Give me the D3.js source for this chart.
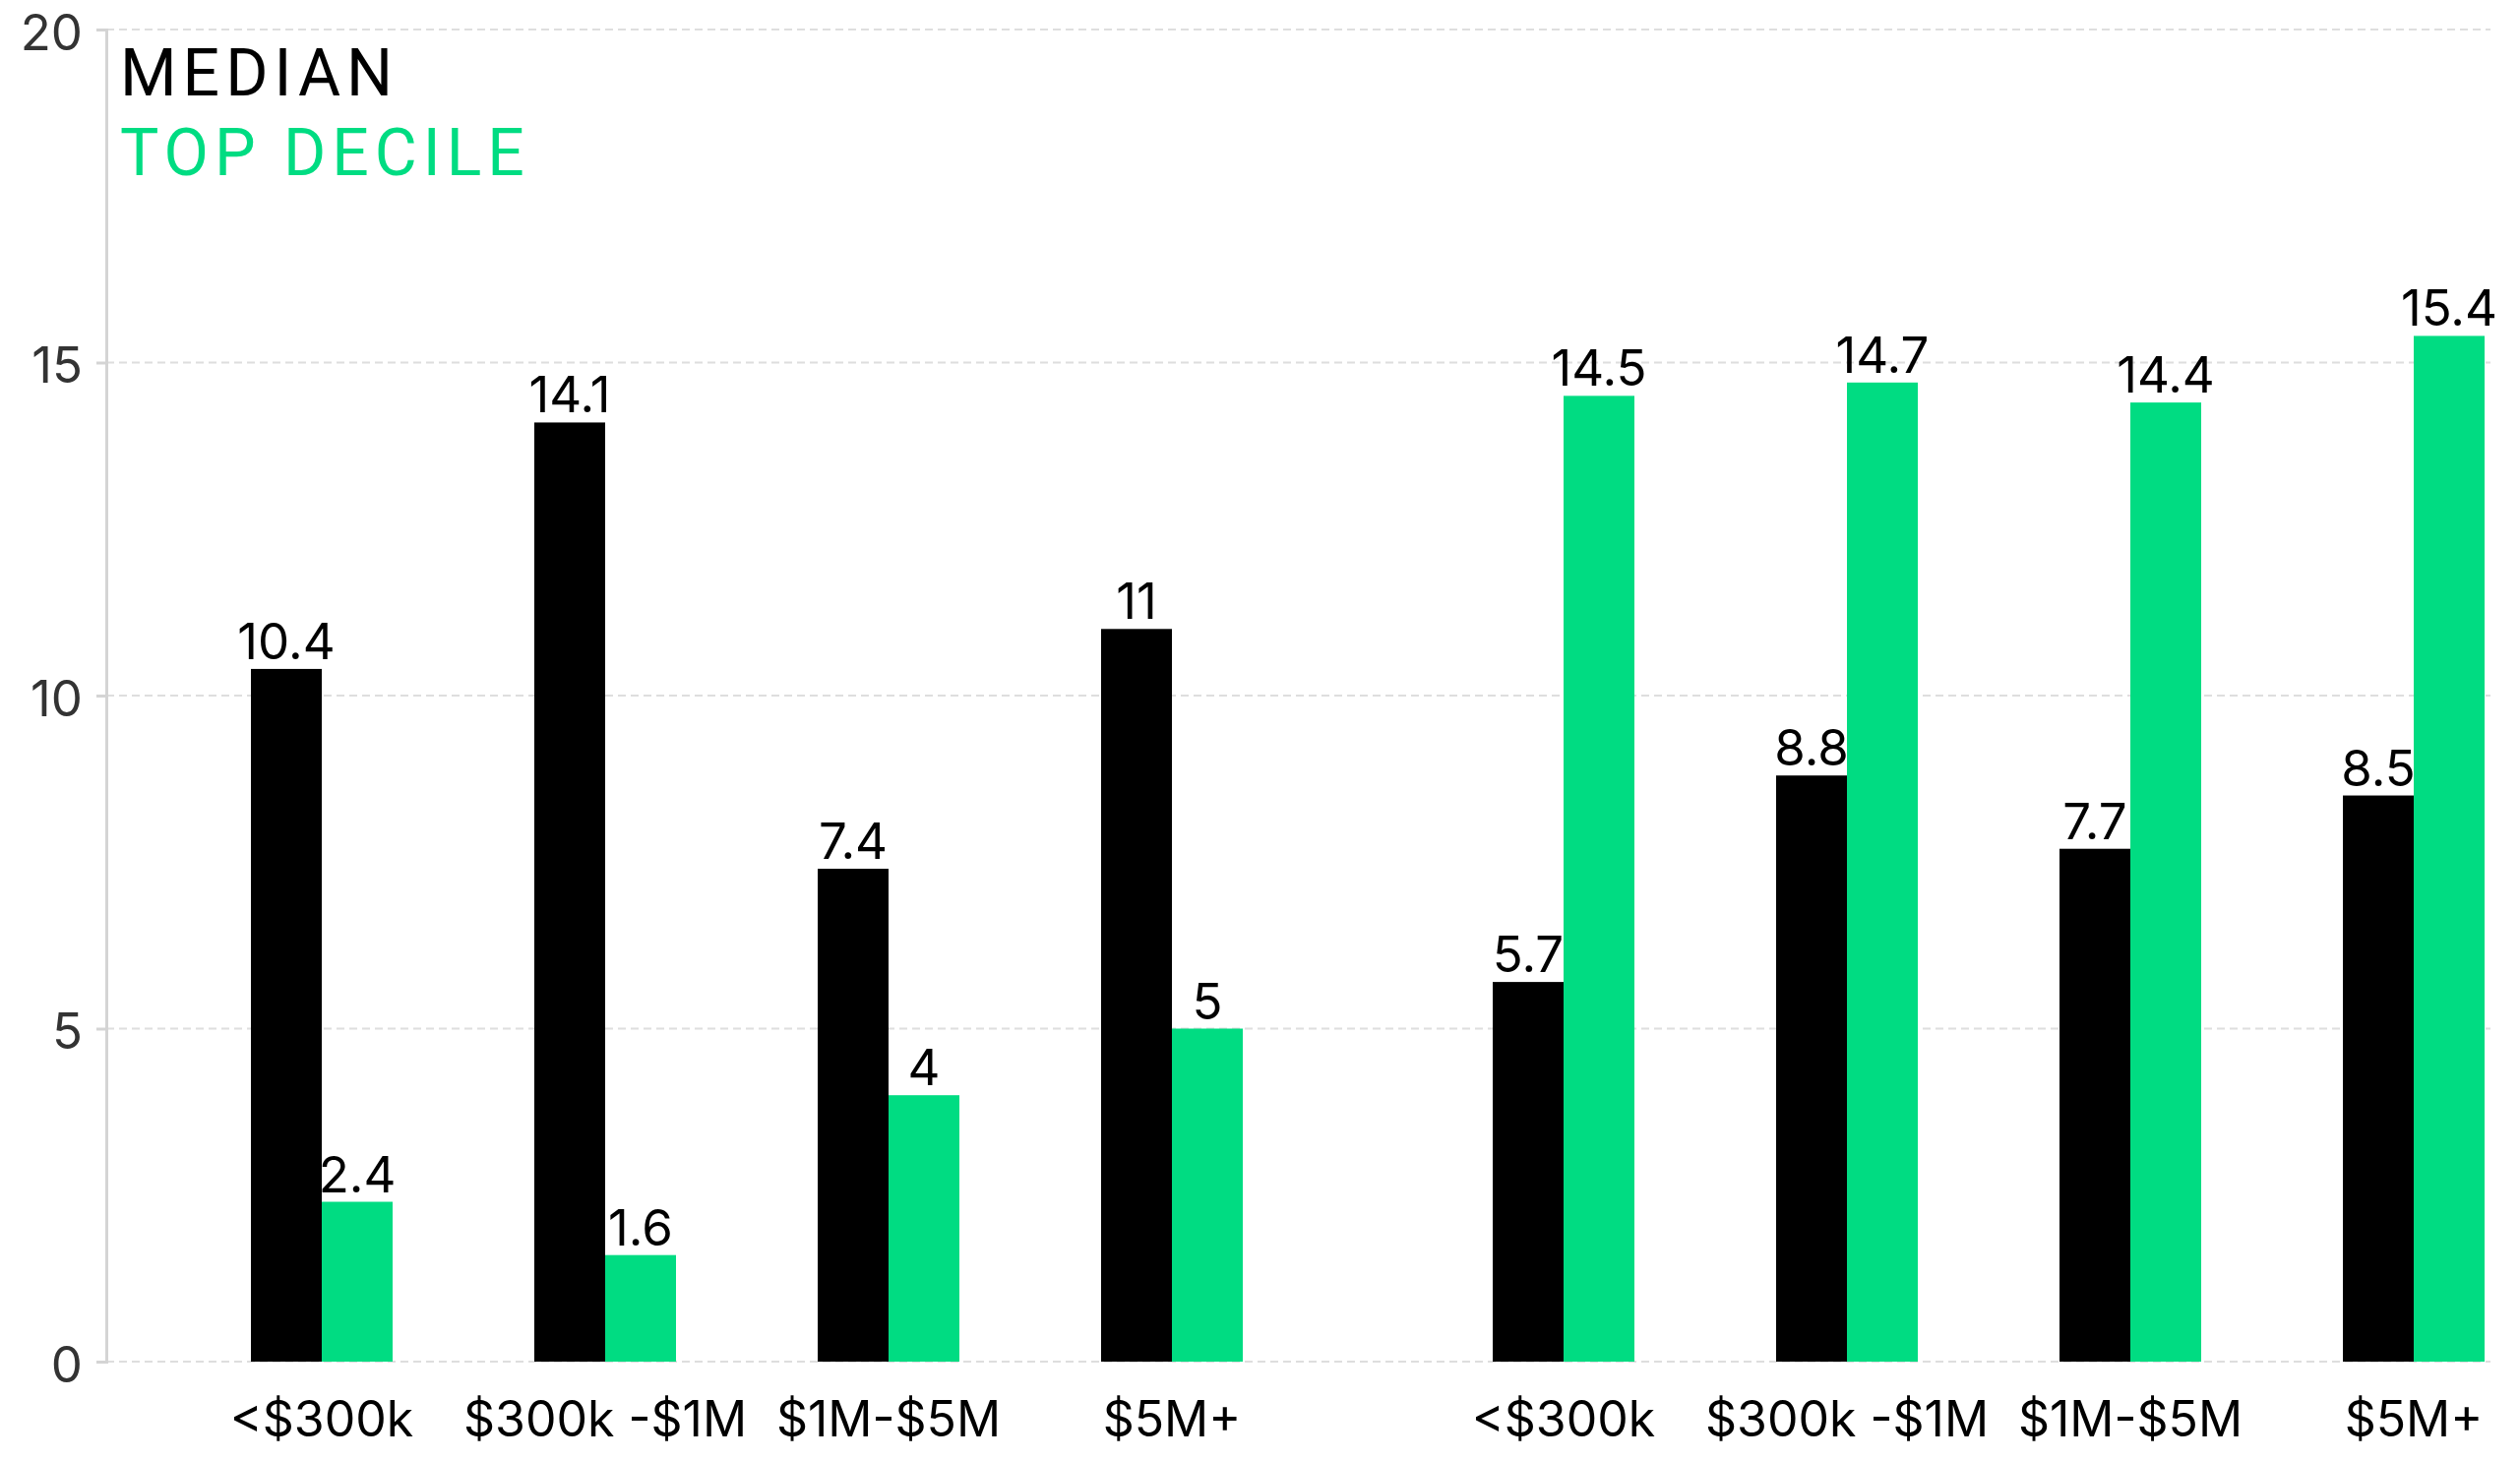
<!DOCTYPE html>
<html>
<head>
<meta charset="utf-8">
<script src="https://cdn.jsdelivr.net/npm/d3@7"></script>
<style>
  html, body { margin: 0; padding: 0; background: #fff; }
  svg { display: block; }
</style>
</head>
<body>
<svg id="chart" width="2561" height="1485"></svg>
<script>
// Two panels of bracket comparisons, each with a median and a top-decile bar
const groups = ["A", "B"];
const categories = ["<$300k", "$300k -$1M", "$1M-$5M", "$5M+"];
const series = ["MEDIAN", "TOP DECILE"];
const medianValues = [[10.4, 14.1, 7.4, 11], [5.7, 8.8, 7.7, 8.5]];
const topDecileValues = [[2.4, 1.6, 4, 5], [14.5, 14.7, 14.4, 15.4]];
const yTicks = [0, 5, 10, 15, 20];

const colors = { "MEDIAN": "#000000", "TOP DECILE": "#00dc82" };

const svg = d3.select("#chart");
const plot = { left: 108, right: 2531, top: 30, bottom: 1384 };

const y = d3.scaleLinear().domain([0, 20]).range([plot.bottom, plot.top]);
// group origin, category offset within a group, series offset within a category
const x0 = d3.scalePoint().domain(groups).range([327, 1589]);
const x1 = d3.scalePoint().domain(categories).range([0, 864]);
const x2 = d3.scaleBand().domain(series).range([-72, 72]);

// gridlines
svg.append("g")
  .selectAll("line")
  .data(yTicks)
  .join("line")
  .attr("x1", plot.left)
  .attr("x2", plot.right)
  .attr("y1", d => y(d))
  .attr("y2", d => y(d))
  .attr("stroke", "#dedede")
  .attr("stroke-width", 2)
  .attr("stroke-dasharray", "8 5");

// y axis
const yAxis = d3.axisLeft(y).tickValues(yTicks).tickSize(10).tickPadding(14);
const gy = svg.append("g")
  .attr("transform", `translate(${plot.left},0)`)
  .call(yAxis);
gy.select(".domain").attr("stroke", "#d4d4d4").attr("stroke-width", 3);
gy.selectAll(".tick line").attr("stroke", "#d4d4d4").attr("stroke-width", 3);
gy.selectAll(".tick text")
  .attr("fill", "#333")
  .attr("dy", "0.4em")
  .style("font-family", "Inter, 'Noto Sans', sans-serif")
  .style("font-size", "51px");

// flatten into bar records
const bars = [];
groups.forEach((g, gi) => {
  categories.forEach((c, ci) => {
    bars.push({ g, c, s: "MEDIAN", v: medianValues[gi][ci] });
    bars.push({ g, c, s: "TOP DECILE", v: topDecileValues[gi][ci] });
  });
});
const barX = d => x0(d.g) + x1(d.c) + x2(d.s);

svg.append("g")
  .selectAll("rect")
  .data(bars)
  .join("rect")
  .attr("x", barX)
  .attr("width", x2.bandwidth())
  .attr("y", d => y(d.v))
  .attr("height", d => y(0) - y(d.v))
  .attr("fill", d => colors[d.s]);

// value labels above each bar
svg.append("g")
  .selectAll("text")
  .data(bars)
  .join("text")
  .attr("x", d => barX(d) + x2.bandwidth() / 2)
  .attr("y", d => y(d.v) - 10)
  .attr("text-anchor", "middle")
  .attr("fill", "#000")
  .style("font-family", "Inter, 'Noto Sans', sans-serif")
  .style("font-size", "51px")
  .text(d => d3.format("~g")(d.v));

// category labels
const catLabels = [];
groups.forEach(g => categories.forEach(c => catLabels.push({ g, c })));
svg.append("g")
  .selectAll("text")
  .data(catLabels)
  .join("text")
  .attr("x", d => x0(d.g) + x1(d.c))
  .attr("y", 1460)
  .attr("text-anchor", "middle")
  .attr("fill", "#000")
  .style("font-family", "Inter, 'Noto Sans', sans-serif")
  .style("font-size", "50px")
  .text(d => d.c);

// legend
svg.append("g")
  .selectAll("text")
  .data(series)
  .join("text")
  .attr("x", 122)
  .attr("y", (d, i) => 97 + i * 81)
  .attr("fill", d => colors[d])
  .style("font-family", "Roboto, Inter, sans-serif")
  .style("font-size", "66px")
  .style("letter-spacing", "6px")
  .text(d => d);
</script>
</body>
</html>
